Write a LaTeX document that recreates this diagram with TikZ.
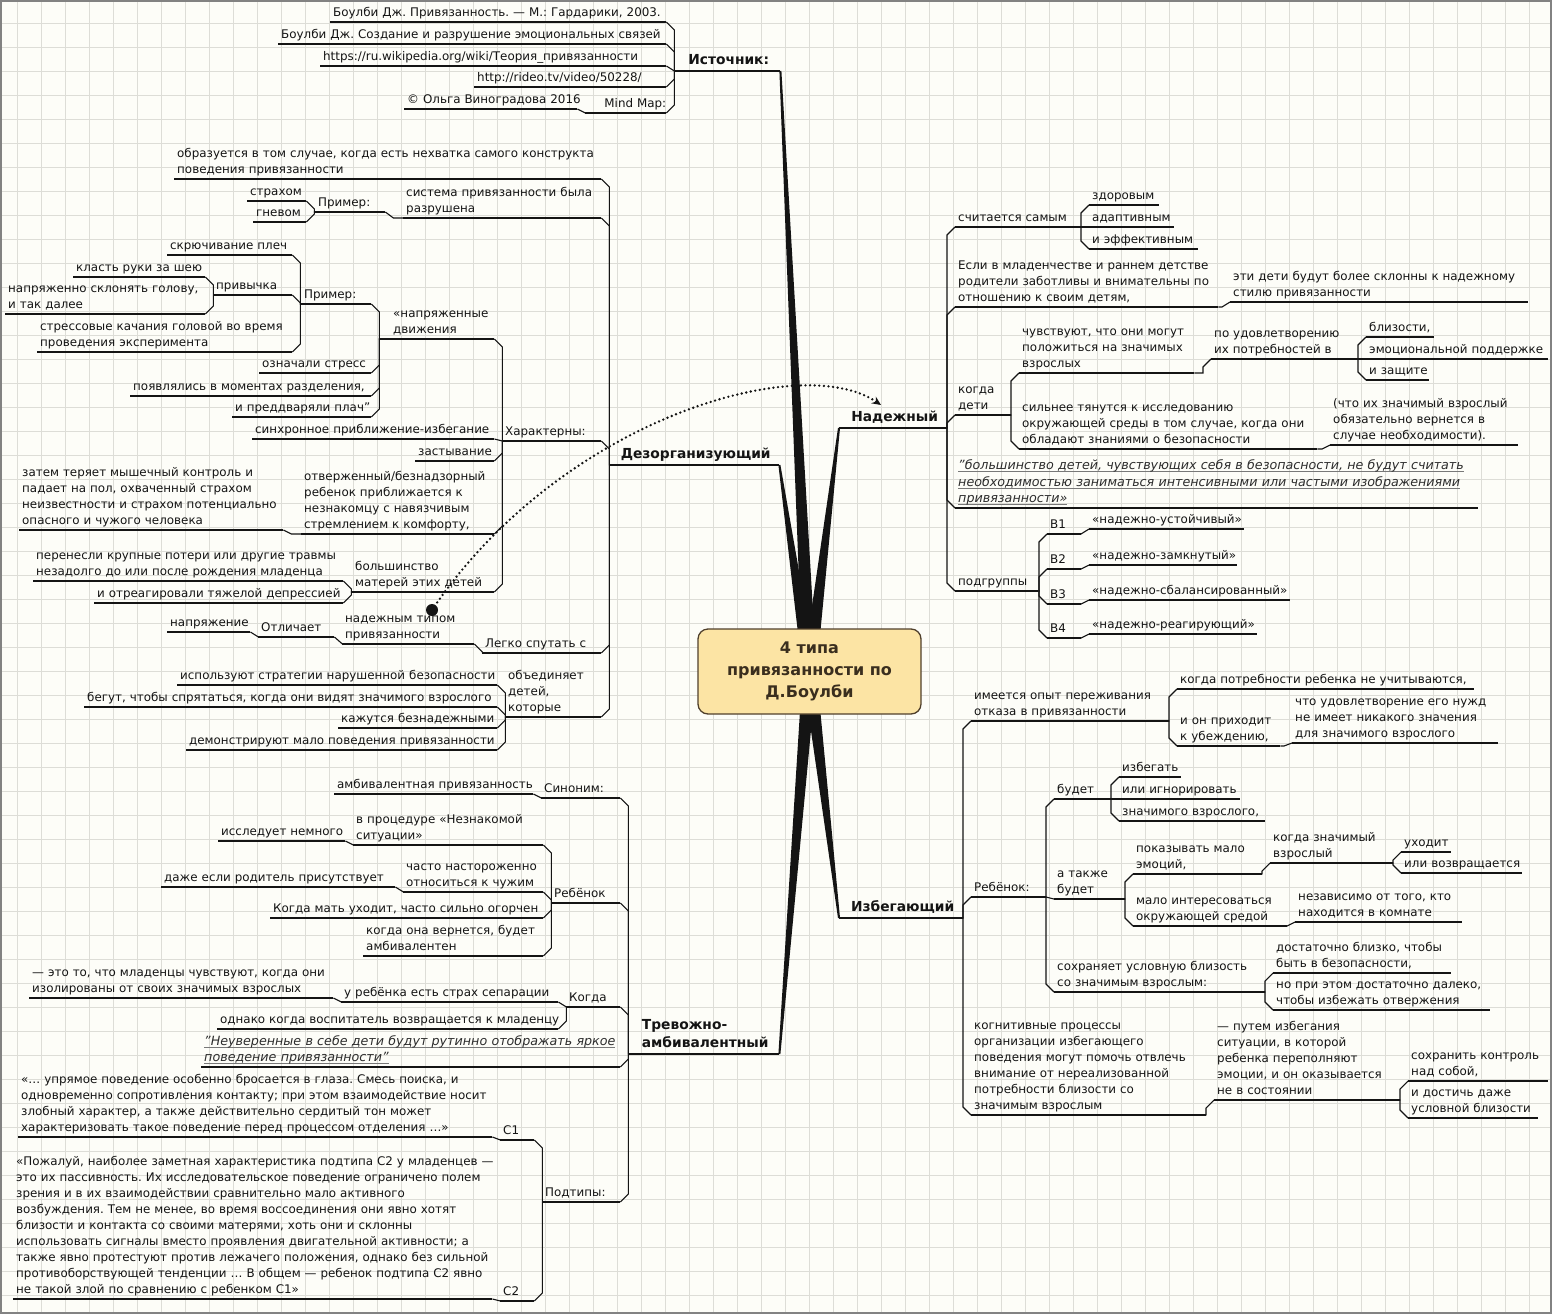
\documentclass[tikz,border=0pt]{standalone}
\usepackage{fontspec}
\setmainfont{DejaVu Sans}
\usetikzlibrary{calc,arrows.meta}
\pgfdeclarelayer{bgl}
\pgfdeclarelayer{wedgel}
\pgfsetlayers{bgl,wedgel,main}
\frenchspacing
\definecolor{bg}{RGB}{253,253,248}
\definecolor{gridc}{RGB}{221,221,215}
\definecolor{framec}{RGB}{130,130,130}
\definecolor{cfill}{RGB}{252,228,164}
\definecolor{cdraw}{RGB}{80,64,44}
\definecolor{ctext}{RGB}{58,46,30}
\definecolor{ink}{RGB}{20,20,20}
\definecolor{itink}{RGB}{45,45,45}
\definecolor{ulgray}{RGB}{120,120,120}
\newcommand\ft{\fontsize{11.9}{16}\selectfont}
\newcommand\fit{\fontsize{12.7}{16.3}\selectfont\itshape}
\newcommand\fb{\fontsize{13.8}{18.5}\selectfont\bfseries}
\newcommand\tl[1]{\noindent\begin{tabular}[b]{@{\hspace{3pt}}l@{}}#1\end{tabular}}
\newcommand\gul[1]{\setbox0\hbox{#1}\rlap{\color{ulgray}\rule[-2.6pt]{\wd0}{0.9pt}}\box0}
\newcommand\nd[6][]{\pgfmathsetmacro\ndw{#4-#3}\node[tn,text width=\ndw pt,#1] (#2) at (#3,#5) {\tl{#6}};}
\newcommand\wdg[1]{\fill[ink] ($(#1)!1pt!90:(cc)$) -- ($(cc)!7pt!-90:(#1)$) -- ($(cc)!7pt!90:(#1)$) -- ($(#1)!1pt!-90:(cc)$) -- cycle;}
\tikzset{
  lk/.style={line width=1.1pt, draw=ink},
  ul/.style={append after command={\pgfextra{\draw[lk] (\tikzlastnode.south west) -- (\tikzlastnode.south east);}}},
  tn/.style={anchor=south west, inner xsep=0pt, inner ysep=0.6pt, align=left, font=\ft, text=ink, ul},
  mn/.style={font=\fb, align=center},
  it/.style={font=\fit, text=itink},
  rc/.style={lk, to path={let \p1=(\tikztostart), \p2=(\tikztotarget) in
     -- (\x2-8pt,\y1) -- (\x2-8pt,{(\y2)-sign((\y2)-(\y1))*min(8pt,abs((\y2)-(\y1)))}) -- (\tikztotarget)}},
  lc/.style={lk, to path={let \p1=(\tikztostart), \p2=(\tikztotarget) in
     -- (\x2+8pt,\y1) -- (\x2+8pt,{(\y2)-sign((\y2)-(\y1))*min(8pt,abs((\y2)-(\y1)))}) -- (\tikztotarget)}},
  dots/.style={line width=2.6pt, line cap=round, dash pattern=on 0pt off 4.6pt, draw=ink},
}
\begin{document}
\begin{tikzpicture}[x=1pt,y=-1pt]
\useasboundingbox (0,0) rectangle (1552,1314);
\begin{pgfonlayer}{bgl}
\fill[bg] (0,0) rectangle (1552,1314);
\foreach \i in {0,...,63} \draw[gridc,line width=1pt] ({17.3+24*\i},0) -- ({17.3+24*\i},1314);
\foreach \i in {0,...,53} \draw[gridc,line width=1pt] (0,{23.3+24*\i}) -- (1552,{23.3+24*\i});
\draw[framec,line width=1.6pt] (0.8,0.8) rectangle (1551.2,1313.2);
\end{pgfonlayer}

\coordinate (cc) at (809.5,671.5);

% ---------------- Источник
\nd[mn]{ist}{674}{780}{71}{Источник:}
\nd{s1}{330}{666}{22}{Боулби Дж. Привязанность. — М.: Гардарики, 2003.}
\nd{s2}{278}{666}{44}{Боулби Дж. Создание и разрушение эмоциональных связей}
\nd{s3}{320}{666}{66}{https://ru.wikipedia.org/wiki/Теория\_привязанности}
\nd{s4}{474}{666}{87}{http://rideo.tv/video/50228/}
\nd[align=right]{s5}{585}{666}{113}{Mind Map:}
\nd{s6}{404}{577}{109}{© Ольга Виноградова 2016}
\foreach \c in {s1,s2,s3,s4,s5} \draw[lc] (ist.south west) to (\c.south east);
\draw[lc] (s5.south west) to (s6.south east);

% ---------------- Дезорганизующий
\nd[mn]{dez}{609}{779}{465}{Дезорганизующий}
\nd{d1}{174}{601}{179}{образуется в том случае, когда есть нехватка самого конструкта\\поведения привязанности}
\nd{d2}{403}{601}{218}{система привязанности была\\разрушена}
\nd{d2a}{315}{385}{212}{Пример:}
\nd{d2a1}{247}{306}{201}{страхом}
\nd{d2a2}{253}{306}{222}{гневом}
\nd{d3}{502}{601}{441}{Характерны:}
\nd{d3a}{390}{494}{339}{«напряженные\\движения}
\nd{d3a1}{301}{371}{304}{Пример:}
\nd{e1}{167}{292}{255}{скрючивание плеч}
\nd{e2}{213}{292}{295}{привычка}
\nd{e2a}{73}{205}{277}{класть руки за шею}
\nd{e2b}{5}{205}{314}{напряженно склонять голову,\\и так далее}
\nd{e3}{37}{292}{352}{стрессовые качания головой во время\\проведения эксперимента}
\nd{d3a2}{259}{371}{373}{означали стресс}
\nd{d3a3}{130}{371}{396}{появлялись в моментах разделения,}
\nd{d3a4}{232}{371}{417}{и преддваряли плач"}
\nd{d3b}{252}{494}{439}{синхронное приближение-избегание}
\nd{d3c}{415}{494}{461}{застывание}
\nd{d3d}{301}{494}{534}{отверженный/безнадзорный\\ребенок приближается к\\незнакомцу с навязчивым\\стремлением к комфорту,}
\nd{d3d1}{19}{283}{530}{затем теряет мышечный контроль и\\падает на пол, охваченный страхом\\неизвестности и страхом потенциально\\опасного и чужого человека}
\nd{d3e}{352}{494}{592}{большинство\\матерей этих детей}
\nd{d3e1}{33}{343}{581}{перенесли крупные потери или другие травмы\\незадолго до или после рождения младенца}
\nd{d3e2}{94}{343}{603}{и отреагировали тяжелой депрессией}
\nd{d4}{482}{601}{653}{Легко спутать с}
\nd{d4a}{342}{474}{644}{надежным типом\\привязанности}
\nd{d4b}{258}{334}{637}{Отличает}
\nd{d4c}{167}{250}{632}{напряжение}
\nd{d5}{505}{601}{717}{объединяет\\детей,\\которые}
\nd{d5a}{177}{497}{685}{используют стратегии нарушенной безопасности}
\nd{d5b}{84}{497}{707}{бегут, чтобы спрятаться, когда они видят значимого взрослого}
\nd{d5c}{338}{497}{728}{кажутся безнадежными}
\nd{d5d}{186}{497}{750}{демонстрируют мало поведения привязанности}
\foreach \c in {d1,d2,d3,d4,d5} \draw[lc] (dez.south west) to (\c.south east);
\draw[lc] (d2.south west) to (d2a.south east);
\foreach \c in {d2a1,d2a2} \draw[lc] (d2a.south west) to (\c.south east);
\foreach \c in {d3a,d3b,d3c,d3d,d3e} \draw[lc] (d3.south west) to (\c.south east);
\foreach \c in {d3a1,d3a2,d3a3,d3a4} \draw[lc] (d3a.south west) to (\c.south east);
\foreach \c in {e1,e2,e3} \draw[lc] (d3a1.south west) to (\c.south east);
\foreach \c in {e2a,e2b} \draw[lc] (e2.south west) to (\c.south east);
\draw[lc] (d3d.south west) to (d3d1.south east);
\foreach \c in {d3e1,d3e2} \draw[lc] (d3e.south west) to (\c.south east);
\draw[lc] (d4.south west) to (d4a.south east);
\draw[lc] (d4a.south west) to (d4b.south east);
\draw[lc] (d4b.south west) to (d4c.south east);
\foreach \c in {d5a,d5b,d5c,d5d} \draw[lc] (d5.south west) to (\c.south east);

% ---------------- Тревожно-амбивалентный
\nd[mn]{trv}{628}{779}{1054}{Тревожно-\\амбивалентный}
\nd{t1}{541}{620}{798}{Синоним:}
\nd{t1a}{334}{533}{794}{амбивалентная привязанность}
\nd{t2}{551}{620}{903}{Ребёнок}
\nd{t2a}{353}{543}{845}{в процедуре «Незнакомой\\ситуации»}
\nd{t2a1}{218}{345}{841}{исследует немного}
\nd{t2b}{403}{543}{892}{часто настороженно\\относиться к чужим}
\nd{t2b1}{161}{395}{887}{даже если родитель присутствует}
\nd{t2c}{270}{543}{918}{Когда мать уходит, часто сильно огорчен}
\nd{t2d}{363}{543}{956}{когда она вернется, будет\\амбивалентен}
\nd{t3}{566}{620}{1007}{Когда}
\nd{t3a}{341}{558}{1002}{у ребёнка есть страх сепарации}
\nd{t3a1}{29}{333}{998}{— это то, что младенцы чувствуют, когда они\\изолированы от своих значимых взрослых}
\nd{t3b}{217}{558}{1029}{однако когда воспитатель возвращается к младенцу}
\nd[it]{t4}{201}{620}{1067}{\gul{"Неуверенные в себе дети будут рутинно отображать яркое}\\\gul{поведение привязанности"}}
\nd{t5}{542}{620}{1202}{Подтипы:}
\nd{c1}{500}{534}{1140}{C1}
\nd{c1t}{18}{492}{1137}{«… упрямое поведение особенно бросается в глаза. Смесь поиска, и\\одновременно сопротивления контакту; при этом взаимодействие носит\\злобный характер, а также действительно сердитый тон может\\характеризовать такое поведение перед процессом отделения …»}
\nd{c2}{500}{534}{1301}{C2}
\nd{c2t}{13}{492}{1299}{«Пожалуй, наиболее заметная характеристика подтипа C2 у младенцев —\\это их пассивность. Их исследовательское поведение ограничено полем\\зрения и в их взаимодействии сравнительно мало активного\\возбуждения. Тем не менее, во время воссоединения они явно хотят\\близости и контакта со своими матерями, хоть они и склонны\\использовать сигналы вместо проявления двигательной активности; а\\также явно протестуют против лежачего положения, однако без сильной\\противоборствующей тенденции … В общем — ребенок подтипа C2 явно\\не такой злой по сравнению с ребенком C1»}
\foreach \c in {t1,t2,t3,t4,t5} \draw[lc] (trv.south west) to (\c.south east);
\draw[lc] (t1.south west) to (t1a.south east);
\foreach \c in {t2a,t2b,t2c,t2d} \draw[lc] (t2.south west) to (\c.south east);
\draw[lc] (t2a.south west) to (t2a1.south east);
\draw[lc] (t2b.south west) to (t2b1.south east);
\foreach \c in {t3a,t3b} \draw[lc] (t3.south west) to (\c.south east);
\draw[lc] (t3a.south west) to (t3a1.south east);
\foreach \c in {c1,c2} \draw[lc] (t5.south west) to (\c.south east);
\draw[lc] (c1.south west) to (c1t.south east);
\draw[lc] (c2.south west) to (c2t.south east);

% ---------------- Надежный
\nd[mn]{nad}{839}{947}{428}{Надежный}
\nd{n1}{955}{1081}{227}{считается самым}
\nd{n1a}{1089}{1159}{205}{здоровым}
\nd{n1b}{1089}{1174}{227}{адаптивным}
\nd{n1c}{1089}{1198}{249}{и эффективным}
\nd{n2}{955}{1218}{307}{Если в младенчестве и раннем детстве\\родители заботливы и внимательны по\\отношению к своим детям,}
\nd{n2a}{1230}{1528}{302}{эти дети будут более склонны к надежному\\стилю привязанности}
\nd{n3}{955}{1011}{415}{когда\\дети}
\nd{n3a}{1019}{1194}{373}{чувствуют, что они могут\\положиться на значимых\\взрослых}
\nd{n3a1}{1211}{1358}{359}{по удовлетворению\\их потребностей в}
\nd{n3x}{1366}{1434}{337}{близости,}
\nd{n3y}{1366}{1548}{359}{эмоциональной поддержке}
\nd{n3z}{1366}{1429}{380}{и защите}
\nd{n3b}{1019}{1317}{449}{сильнее тянутся к исследованию\\окружающей среды в том случае, когда они\\обладают знаниями о безопасности}
\nd{n3b1}{1330}{1518}{445}{(что их значимый взрослый\\обязательно вернется в\\случае необходимости).}
\nd[it]{n4}{955}{1478}{508}{\gul{"большинство детей, чувствующих себя в безопасности, не будут считать}\\\gul{необходимостью заниматься интенсивными или частыми изображениями}\\\gul{привязанности»}}
\nd{n5}{955}{1038}{591}{подгруппы}
\nd{b1}{1047}{1081}{534}{B1}
\nd{b2}{1047}{1081}{569}{B2}
\nd{b3}{1047}{1081}{604}{B3}
\nd{b4}{1047}{1081}{638}{B4}
\nd{b1t}{1089}{1244}{529}{«надежно-устойчивый»}
\nd{b2t}{1089}{1237}{565}{«надежно-замкнутый»}
\nd{b3t}{1089}{1290}{600}{«надежно-сбалансированный»}
\nd{b4t}{1089}{1257}{634}{«надежно-реагирующий»}
\foreach \c in {n1,n2,n3,n4,n5} \draw[rc] (nad.south east) to (\c.south west);
\foreach \c in {n1a,n1b,n1c} \draw[rc] (n1.south east) to (\c.south west);
\draw[rc] (n2.south east) to (n2a.south west);
\foreach \c in {n3a,n3b} \draw[rc] (n3.south east) to (\c.south west);
\draw[rc] (n3a.south east) to (n3a1.south west);
\foreach \c in {n3x,n3y,n3z} \draw[rc] (n3a1.south east) to (\c.south west);
\draw[rc] (n3b.south east) to (n3b1.south west);
\foreach \c in {b1,b2,b3,b4} \draw[rc] (n5.south east) to (\c.south west);
\foreach \c in {1,2,3,4} \draw[rc] (b\c.south east) to (b\c t.south west);

% ---------------- Избегающий
\nd[mn]{izb}{839}{963}{918}{Избегающий}
\nd{i1}{971}{1169}{721}{имеется опыт переживания\\отказа в привязанности}
\nd{i1a}{1177}{1474}{689}{когда потребности ребенка не учитываются,}
\nd{i1b}{1177}{1280}{746}{и он приходит\\к убеждению,}
\nd{i1b1}{1292}{1498}{743}{что удовлетворение его нужд\\не имеет никакого значения\\для значимого взрослого}
\nd{i2}{971}{1046}{897}{Ребёнок:}
\nd{i2a}{1054}{1105}{799}{будет}
\nd{j1}{1119}{1181}{777}{избегать}
\nd{j2}{1119}{1240}{799}{или игнорировать}
\nd{j3}{1119}{1265}{821}{значимого взрослого,}
\nd{i2b}{1054}{1125}{899}{а также\\будет}
\nd{k1}{1133}{1262}{874}{показывать мало\\эмоций,}
\nd{k1a}{1270}{1393}{863}{когда значимый\\взрослый}
\nd{k1a1}{1401}{1451}{852}{уходит}
\nd{k1a2}{1401}{1522}{873}{или возвращается}
\nd{k2}{1133}{1287}{926}{мало интересоваться\\окружающей средой}
\nd{k2a}{1295}{1462}{922}{независимо от того, кто\\находится в комнате}
\nd{i2c}{1054}{1265}{992}{сохраняет условную близость\\со значимым взрослым:}
\nd{m1}{1273}{1451}{973}{достаточно близко, чтобы\\быть в безопасности,}
\nd{m2}{1273}{1490}{1010}{но при этом достаточно далеко,\\чтобы избежать отвержения}
\nd{i3}{971}{1206}{1115}{когнитивные процессы\\организации избегающего\\поведения могут помочь отвлечь\\внимание от нереализованной\\потребности близости со\\значимым взрослым}
\nd{i3a}{1214}{1400}{1100}{— путем избегания\\ситуации, в которой\\ребенка переполняют\\эмоции, и он оказывается\\не в состоянии}
\nd{i3a1}{1408}{1548}{1081}{сохранить контроль\\над собой,}
\nd{i3a2}{1408}{1538}{1118}{и достичь даже\\условной близости}
\foreach \c in {i1,i2,i3} \draw[rc] (izb.south east) to (\c.south west);
\foreach \c in {i1a,i1b} \draw[rc] (i1.south east) to (\c.south west);
\draw[rc] (i1b.south east) to (i1b1.south west);
\foreach \c in {i2a,i2b,i2c} \draw[rc] (i2.south east) to (\c.south west);
\foreach \c in {j1,j2,j3} \draw[rc] (i2a.south east) to (\c.south west);
\foreach \c in {k1,k2} \draw[rc] (i2b.south east) to (\c.south west);
\draw[rc] (k1.south east) to (k1a.south west);
\foreach \c in {k1a1,k1a2} \draw[rc] (k1a.south east) to (\c.south west);
\draw[rc] (k2.south east) to (k2a.south west);
\foreach \c in {m1,m2} \draw[rc] (i2c.south east) to (\c.south west);
\draw[rc] (i3.south east) to (i3a.south west);
\foreach \c in {i3a1,i3a2} \draw[rc] (i3a.south east) to (\c.south west);

% ---------------- wedges and centre
\begin{pgfonlayer}{wedgel}
\wdg{ist.south east}
\wdg{dez.south east}
\wdg{trv.south east}
\wdg{nad.south west}
\wdg{izb.south west}
\end{pgfonlayer}
\node[draw=cdraw, fill=cfill, line width=1.3pt, rounded corners=10pt, minimum width=223pt, minimum height=85pt, inner sep=0pt, align=center, font=\fontsize{16}{22}\selectfont\bfseries, text=ctext] (c) at (cc) {4 типа\\привязанности по\\Д.Боулби};

% ---------------- dotted link
\coordinate (ds) at (432,610);
\coordinate (de) at (881,405);
\fill[ink] (ds) circle (6pt);
\draw[dots, -{Stealth[length=9pt,width=8pt]}] (ds) .. controls (560,420) and (800,350) .. (de);
\end{tikzpicture}
\end{document}
